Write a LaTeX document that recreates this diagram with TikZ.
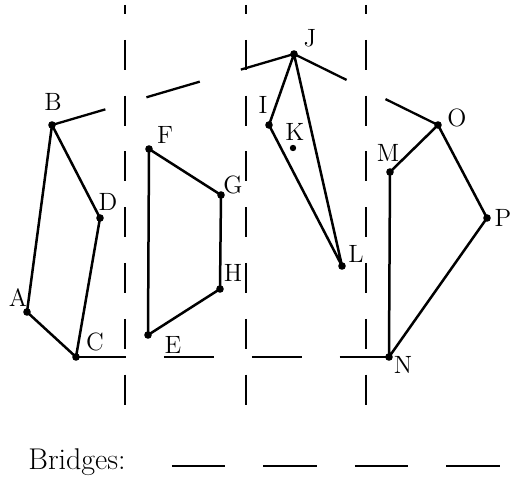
\documentclass[tikz,border=0pt]{standalone}
\begin{document}
\begin{tikzpicture}[x=0.5pt,y=-0.5pt,
    vtx/.style={circle,fill=black,inner sep=0pt,minimum size=3.8pt},
    lbl/.style={font=\fontsize{12.5}{14}\selectfont,inner sep=0pt},
    edge/.style={line width=1.25pt,line join=round},
    river/.style={line width=1.15pt,dash pattern=on 15pt off 12.9pt,dash phase=10.5pt},
    bridge/.style 2 args={line width=1.15pt,dash pattern=on #1 off #2}]
        \useasboundingbox (0,0) rectangle (511,487);
        % River banks
        \coordinate (r1t) at (125,5);   \coordinate (r1b) at (125,405);
        \coordinate (r2t) at (246,5);   \coordinate (r2b) at (246,405);
        \coordinate (r3t) at (366,5);   \coordinate (r3b) at (366,405);
        \draw[river] (r1t) -- (r1b);
        \draw[river] (r2t) -- (r2b);
        \draw[river] (r3t) -- (r3b);
        % Region 1: A B C D
        \node[vtx] (A) at (27,312) {};
        \node[vtx] (B) at (52,125) {};
        \node[vtx] (C) at (76,357) {};
        \node[vtx] (D) at (100,218) {};
        \node[lbl] (lA) at (18,298) {A};
        \node[lbl] (lB) at (53,102) {B};
        \node[lbl] (lC) at (95,342) {C};
        \node[lbl] (lD) at (108,202) {D};
        \draw[edge] (B.center) -- (A.center) -- (C.center) -- (D.center) -- (B.center);
        % Region 2: E F G H
        \node[vtx] (E) at (148,335) {};
        \node[vtx] (F) at (149,149) {};
        \node[vtx] (G) at (221,195) {};
        \node[vtx] (H) at (220,289) {};
        \node[lbl] (lE) at (173,345) {E};
        \node[lbl] (lF) at (165,135) {F};
        \node[lbl] (lG) at (233,185) {G};
        \node[lbl] (lH) at (233,273) {H};
        \draw[edge] (F.center) -- (G.center) -- (H.center) -- (E.center) -- (F.center);
        % Region 3: I J K L
        \node[vtx] (I) at (269,125) {};
        \node[vtx] (J) at (294,54) {};
        \node[vtx,minimum size=3.2pt] (K) at (293,148) {};
        \node[vtx] (L) at (342,266) {};
        \node[lbl] (lI) at (263,105) {I};
        \node[lbl] (lJ) at (310,38) {J};
        \node[lbl] (lK) at (295,132) {K};
        \node[lbl] (lL) at (356,254) {L};
        \draw[edge] (J.center) -- (I.center) -- (L.center) -- (J.center);
        % Region 4: M N O P
        \node[vtx] (M) at (390,172) {};
        \node[vtx] (N) at (389,357) {};
        \node[vtx] (O) at (438,125) {};
        \node[vtx] (P) at (487,218) {};
        \node[lbl] (lM) at (388,153) {M};
        \node[lbl] (lN) at (403,365) {N};
        \node[lbl] (lO) at (457,118) {O};
        \node[lbl] (lP) at (503,218) {P};
        \draw[edge] (M.center) -- (O.center) -- (P.center) -- (N.center) -- (M.center);
        % Bridges
        \draw[bridge={27.8pt}{21.4pt}] (B.center) -- (J.center);
        \draw[bridge={29.3pt}{21.7pt}] (J.center) -- (O.center);
        \draw[bridge={25.25pt}{18.7pt}] (C.center) -- (N.center);
        % Key
        \node[lbl,font=\fontsize{15}{17}\selectfont,anchor=base west] (key) at (28,470) {Bridges:};
        \coordinate (k1) at (172,466);
        \coordinate (k2) at (500,466);
        \draw[bridge={26.75pt}{19pt}] (k1) -- (k2);
\end{tikzpicture}
\end{document}
